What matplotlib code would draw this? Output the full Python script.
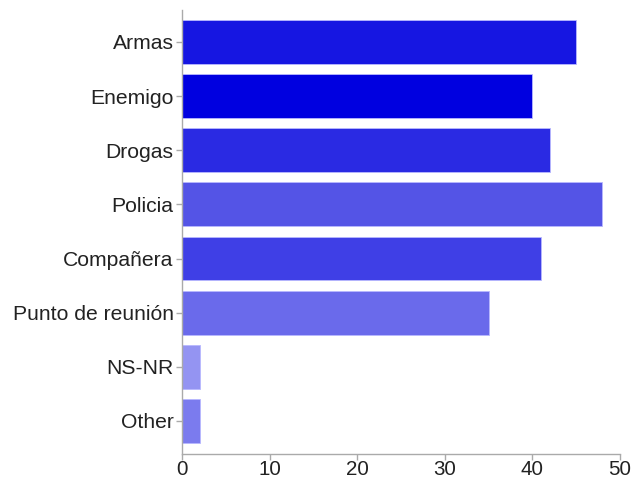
import matplotlib
matplotlib.use("Agg")
import matplotlib.pyplot as plt

categories = ["Armas", "Enemigo", "Drogas", "Policia", "Compañera",
              "Punto de reunión", "NS-NR", "Other"]
values = [45, 40, 42, 48, 41, 35, 2, 2]
colors = ["#1616e2", "#0000e0", "#2a2ae3", "#5454e6", "#3f3fe6",
          "#6a6aeb", "#9494f2", "#7b7bee"]
xticks = [0, 10, 20, 30, 40, 50]

plt.rcParams['font.family'] = ['Liberation Sans', 'DejaVu Sans']

fig = plt.figure(figsize=(6.33, 4.78), dpi=100)
ax = fig.add_axes([182/633, 1-454/478, (620-182)/633, (454-10)/478])

pos = list(range(len(categories)))
ax.barh(pos, values, height=0.81, color=colors, edgecolor="#b8b8ff", linewidth=0.6)

ax.set_ylim(7.61, -0.59)
ax.set_xlim(0, 50)
ax.set_yticks(pos)
ax.set_yticklabels(categories, fontsize=15.2, color="#222222")
ax.set_xticks(xticks)
ax.set_xticklabels([str(t) for t in xticks], fontsize=14.8, color="#222222")

for s in ["top", "right"]:
    ax.spines[s].set_visible(False)
for s in ["left", "bottom"]:
    ax.spines[s].set_color("#aaaaaa")
    ax.spines[s].set_linewidth(1.0)
ax.tick_params(axis="y", colors="#aaaaaa", length=4, width=1, labelcolor="#222222", pad=2)
ax.tick_params(axis="x", colors="#aaaaaa", length=4, width=1, labelcolor="#222222", pad=0.5)

fig.savefig("out.png", dpi=100)
